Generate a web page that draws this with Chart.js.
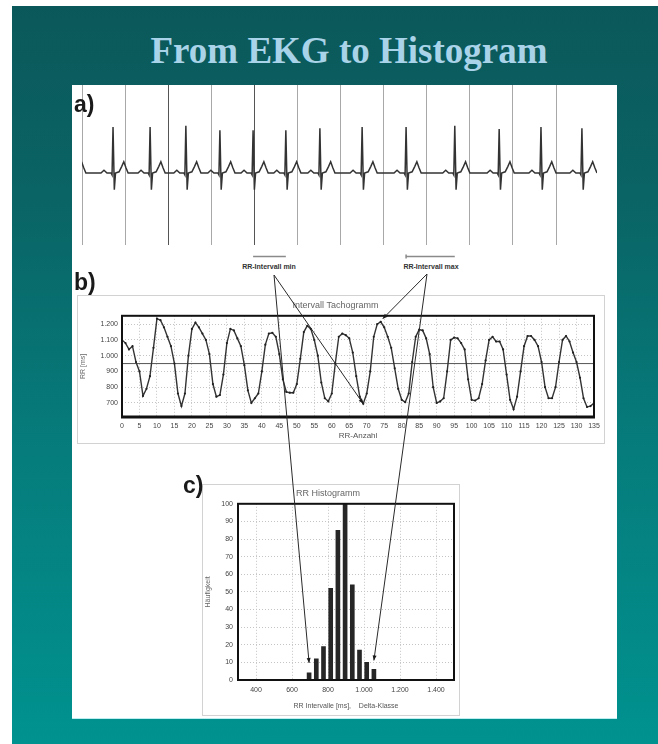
<!DOCTYPE html>
<html>
<head>
<meta charset="utf-8">
<script src="https://cdn.jsdelivr.net/npm/chart.js@4.4.1/dist/chart.umd.min.js"></script>
<style>
  html, body { margin: 0; padding: 0; }
  body { width: 658px; height: 744px; position: relative; overflow: hidden; background: #fff; font-family: "Liberation Sans", Arial, sans-serif; }
  #slide { position: absolute; left: 12px; top: 6px; right: 0; bottom: 0;
    background: linear-gradient(180deg, #0b585a 0%, #0a6364 25%, #067c7c 60%, #00928f 100%); }
  #title { position: absolute; left: 0; width: 698px; top: 29px; text-align: center; line-height: 36px;
    font: bold 37px "Liberation Serif", "Times New Roman", serif; color: #a9d3e8; }
  #panel { position: absolute; left: 72px; top: 85px; width: 545px; height: 633px; background: #fff; border-bottom: 1px solid #bfeef0; }
  .box { position: absolute; border: 1px solid #d2d2d2; background: #fff; box-sizing: border-box; }
  canvas { position: absolute; }
  .lbl { position: absolute; font: bold 23px "Liberation Sans", Arial, sans-serif; color: #1a1a1a; line-height: 1; }
  .rr { position: absolute; font: bold 7px "Liberation Sans", Arial, sans-serif; color: #333; white-space: nowrap; transform: translateX(-50%); }
</style>
</head>
<body>
<div id="slide"></div>
<div id="title">From EKG to Histogram</div>
<div id="panel"></div>
<div class="box" style="left:77px; top:295px; width:528px; height:149px;"></div>
<div class="box" style="left:202px; top:484px; width:258px; height:232px;"></div>
<canvas id="ekg" width="545" height="165" style="left:72px; top:85px;"></canvas>
<canvas id="tacho" width="528" height="149" style="left:77px; top:295px;"></canvas>
<canvas id="hist" width="258" height="232" style="left:202px; top:484px;"></canvas>
<div class="lbl" style="left:74px; top:93px;">a)</div>
<div class="lbl" style="left:74px; top:271px;">b)</div>
<div class="lbl" style="left:183px; top:474px;">c)</div>
<div class="rr" id="lblMin" style="left:269px; top:263px;">RR-Intervall min</div>
<div class="rr" id="lblMax" style="left:431px; top:263px;">RR-Intervall max</div>
<canvas id="overlay" width="658" height="744" style="left:0; top:0; z-index:10; pointer-events:none;"></canvas>
<script>
// --- DATA --- //
// EKG: grid lines, R-peak times and R amplitudes (time units = grid spacing)
const ekgGrid = [0, 1, 2, 3, 4, 5, 6, 7, 8, 9, 10, 11];
const ekgR = [-0.26, 0.72, 1.58, 2.41, 3.20, 3.97, 4.73, 5.52, 6.50, 7.52, 8.65, 9.68, 10.65, 11.60];
const ekgRAmp = [1.10, 1.15, 1.15, 1.18, 1.07, 1.07, 1.07, 1.12, 1.15, 1.15, 1.18, 1.10, 1.15, 1.12];
// one beat: offset from R and voltage (null = R peak)
const beatT = [-0.28, -0.21, -0.14, -0.046, -0.023, 0, 0.03, 0.058, 0.14, 0.20, 0.25, 0.30, 0.35];
const beatV = [0, 0.07, 0, 0, -0.05, null, -0.42, 0, 0.03, 0.16, 0.28, 0.13, 0];

// Tachogramm: RR interval (ms) per beat number 0..135
const rrValues = [
  1100, 1080, 1040, 1060, 960, 900, 745, 790, 870, 1050,
  1235, 1225, 1180, 1120, 1060, 950, 760, 680, 760, 1000,
  1170, 1210, 1180, 1140, 1100, 1010, 820, 740, 750, 880,
  1080, 1170, 1160, 1110, 1060, 940, 780, 700, 730, 760,
  900, 1070, 1140, 1145, 1120, 1010, 850, 770, 765, 765,
  820, 980, 1150, 1190, 1170, 1100, 1000, 830, 730, 710,
  760, 950, 1120, 1140, 1130, 1110, 1020, 870, 740, 695,
  760, 900, 1120, 1200, 1215, 1180, 1120, 1050, 920, 790,
  720, 705, 760, 960, 1120, 1165, 1160, 1110, 1010, 800,
  700, 710, 730, 900, 1100, 1115, 1110, 1080, 1040, 850,
  720, 715, 730, 820, 970, 1100, 1120, 1090, 1090, 1040,
  880, 720, 660, 740, 900, 1060, 1125, 1125, 1100, 1060,
  960, 800, 730, 730, 800, 960, 1100, 1125, 1090, 1020,
  960, 860, 730, 675, 680, 700
];
const rrMean = 950;
const rrTicks = [700, 800, 900, 1000, 1100, 1200];
const rrMinIdx = 69;
const rrMaxIdx = 74;

// Histogramm: class centres (ms) and counts
const histBins = [695, 735, 775, 815, 855, 895, 935, 975, 1015, 1055];
const histCounts = [4, 12, 19, 52, 85, 100, 54, 17, 10, 6];
const histTicks = [400, 600, 800, 1000, 1200, 1400];

// --- HELPERS --- //
Chart.defaults.font.family = '"Liberation Sans", Arial, sans-serif';
Chart.defaults.color = '#555';

function fmtMs(v) {
  return v >= 1000 ? Math.floor(v / 1000) + '.' + String(v % 1000).padStart(3, '0') : String(v);
}

// thick black frame round the plot area
const framePlugin = {
  id: 'frame',
  afterDatasetsDraw(chart, args, opts) {
    if (!opts.width) return;
    const a = chart.chartArea, c = chart.ctx;
    c.save();
    c.strokeStyle = '#111';
    c.lineWidth = opts.width;
    c.strokeRect(a.left, a.top, a.right - a.left, a.bottom - a.top);
    if (opts.bottom) {
      c.lineWidth = opts.bottom;
      c.beginPath();
      c.moveTo(a.left - 1, a.bottom);
      c.lineTo(a.right + 1, a.bottom);
      c.stroke();
    }
    c.restore();
  }
};

// --- a) EKG --- //
const ekgPoints = [];
ekgR.forEach((r, b) => {
  beatT.forEach((dt, j) => {
    ekgPoints.push({ x: r + dt, y: beatV[j] === null ? ekgRAmp[b] : beatV[j] });
  });
});

const ekgChart = new Chart(document.getElementById('ekg'), {
  type: 'line',
  data: { datasets: [{ data: ekgPoints, borderColor: '#333', borderWidth: 1.5, pointRadius: 0, tension: 0 }] },
  options: {
    responsive: false,
    animation: false,
    layout: { padding: { left: 10, right: 20, top: 0, bottom: 0 } },
    plugins: { legend: { display: false }, tooltip: { enabled: false } },
    scales: {
      x: {
        type: 'linear', min: 0, max: 11.95,
        afterBuildTicks: s => { s.ticks = ekgGrid.map(v => ({ value: v })); },
        afterFit: s => { s.height = 5; },
        ticks: { display: false },
        border: { display: false },
        grid: { drawTicks: false, lineWidth: 1, color: ctx => (ctx.tick && (ctx.tick.value === 2 || ctx.tick.value === 4)) ? '#555' : '#a8a8a8' }
      },
      y: { display: false, min: -1.8, max: 2.2 }
    }
  }
});

// --- b) Intervall Tachogramm --- //
const tachoChart = new Chart(document.getElementById('tacho'), {
  type: 'line',
  data: {
    datasets: [
      { data: rrValues.map((v, i) => ({ x: i, y: v })), borderColor: '#333', borderWidth: 1.4,
        pointRadius: 1.1, pointBackgroundColor: '#222', pointBorderWidth: 0, tension: 0 },
      { data: [{ x: 0, y: rrMean }, { x: 135, y: rrMean }], borderColor: '#555', borderWidth: 1, pointRadius: 0 }
    ]
  },
  plugins: [framePlugin],
  options: {
    responsive: false,
    animation: false,
    layout: { padding: { left: 0, right: 11, top: 0, bottom: 0 } },
    plugins: {
      legend: { display: false }, tooltip: { enabled: false },
      title: { display: true, text: 'Intervall Tachogramm', color: '#666', font: { size: 9, weight: 'normal' }, padding: { top: 5, bottom: 5 } },
      frame: { width: 2, bottom: 3 }
    },
    scales: {
      x: {
        type: 'linear', min: 0, max: 135,
        afterFit: s => { s.height = 27; },
        ticks: { stepSize: 5, autoSkip: false, maxRotation: 0, font: { size: 7 }, padding: 5, color: '#444' },
        grid: { drawTicks: false, color: '#c4c4c4' },
        border: { display: false, dash: [1, 2] },
        title: { display: true, text: 'RR-Anzahl', font: { size: 8 }, color: '#555', padding: { top: 0, bottom: 3 } }
      },
      y: {
        min: 611, max: 1253,
        afterBuildTicks: s => { s.ticks = rrTicks.map(v => ({ value: v })); },
        afterFit: s => { s.width = 45; },
        ticks: { font: { size: 7 }, padding: 4, color: '#444', callback: v => fmtMs(v) },
        grid: { drawTicks: false, color: '#c4c4c4' },
        border: { display: false, dash: [1, 2] },
        title: { display: true, text: 'RR [ms]', font: { size: 7 }, color: '#666', padding: { top: 2, bottom: 2 } }
      }
    }
  }
});

// --- c) RR Histogramm --- //
const histChart = new Chart(document.getElementById('hist'), {
  type: 'bar',
  data: {
    datasets: [{ data: histBins.map((b, i) => ({ x: b, y: histCounts[i] })), backgroundColor: '#262626',
      borderWidth: 0, barThickness: 4 }]
  },
  plugins: [framePlugin],
  options: {
    responsive: false,
    animation: false,
    layout: { padding: { left: 0, right: 6, top: 0, bottom: 0 } },
    plugins: {
      legend: { display: false }, tooltip: { enabled: false },
      title: { display: true, text: 'RR Histogramm', color: '#666', font: { size: 9, weight: 'normal' }, padding: { top: 4, bottom: 5 } },
      frame: { width: 2 }
    },
    scales: {
      x: {
        type: 'linear', min: 300, max: 1500, offset: false,
        afterBuildTicks: s => { s.ticks = histTicks.map(v => ({ value: v })); },
        afterFit: s => { s.height = 36; },
        ticks: { autoSkip: false, maxRotation: 0, font: { size: 7 }, padding: 6, color: '#444', callback: v => fmtMs(v) },
        grid: { drawTicks: false, offset: false, color: '#c4c4c4' },
        border: { display: false, dash: [1, 2] },
        title: { display: true, text: 'RR Intervalle [ms],    Delta-Klasse', font: { size: 7 }, color: '#555', padding: { top: 0, bottom: 6 } }
      },
      y: {
        min: 0, max: 100,
        afterFit: s => { s.width = 36; },
        ticks: { stepSize: 10, font: { size: 7 }, padding: 5, color: '#444' },
        grid: { drawTicks: false, color: '#c4c4c4' },
        border: { display: false, dash: [1, 2] },
        title: { display: true, text: 'Häufigkeit', font: { size: 7 }, color: '#666', padding: { top: 2, bottom: 2 } }
      }
    }
  }
});

// --- CONNECTING LINES (min / max) --- //
function pagePoint(chart, xv, yv) {
  const cv = chart.canvas;
  return { x: cv.offsetLeft + chart.scales.x.getPixelForValue(xv), y: cv.offsetTop + chart.scales.y.getPixelForValue(yv) };
}

const ov = document.getElementById('overlay').getContext('2d');

function arrow(from, to, head) {
  ov.beginPath();
  ov.moveTo(from.x, from.y);
  ov.lineTo(to.x, to.y);
  ov.stroke();
  const ang = Math.atan2(to.y - from.y, to.x - from.x);
  ov.beginPath();
  ov.moveTo(to.x, to.y);
  ov.lineTo(to.x - head * Math.cos(ang) + 2 * Math.sin(ang), to.y - head * Math.sin(ang) - 2 * Math.cos(ang));
  ov.lineTo(to.x - head * Math.cos(ang) - 2 * Math.sin(ang), to.y - head * Math.sin(ang) + 2 * Math.cos(ang));
  ov.closePath();
  ov.fill();
}

function bracket(r0, r1, leftTick, rightTick) {
  const y = 256.5;
  const x0 = ekgChart.canvas.offsetLeft + ekgChart.scales.x.getPixelForValue(ekgR[r0]);
  const x1 = ekgChart.canvas.offsetLeft + ekgChart.scales.x.getPixelForValue(ekgR[r1]);
  ov.beginPath();
  ov.moveTo(x0, y); ov.lineTo(x1, y);
  if (leftTick) { ov.moveTo(x0, y - 2); ov.lineTo(x0, y + 2); }
  if (rightTick) { ov.moveTo(x1, y - 2); ov.lineTo(x1, y + 2); }
  ov.stroke();
}

ov.strokeStyle = '#8a8a8a';
ov.lineWidth = 1.5;
bracket(5, 6, false, false);
bracket(9, 10, true, false);

ov.strokeStyle = '#2a2a2a';
ov.fillStyle = '#1a1a1a';
ov.lineWidth = 1;
const minStart = { x: 274, y: 275 };
const maxStart = { x: 427, y: 274 };
const tMin = pagePoint(tachoChart, rrMinIdx, rrValues[rrMinIdx]);
const tMax = pagePoint(tachoChart, rrMaxIdx, rrValues[rrMaxIdx]);
const hMin = pagePoint(histChart, histBins[0], histCounts[0]);
const hMax = pagePoint(histChart, histBins[histBins.length - 1], histCounts[histCounts.length - 1]);
arrow(minStart, tMin, 5);
arrow(minStart, { x: hMin.x, y: hMin.y - 10 }, 5);
arrow(maxStart, { x: tMax.x + 2, y: tMax.y - 3 }, 5);
arrow(maxStart, { x: hMax.x, y: hMax.y - 9 }, 5);
</script>
</body>
</html>
